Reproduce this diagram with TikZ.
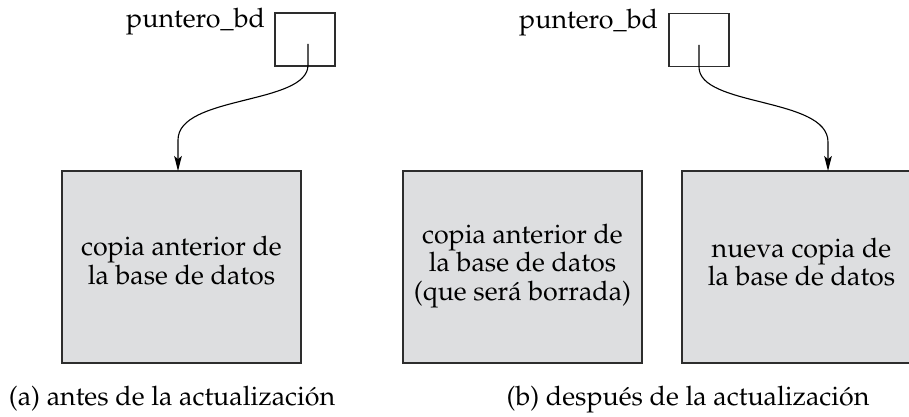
\documentclass[tikz,border=0pt]{standalone}
\usepackage[T1]{fontenc}
\usepackage{mathpazo}
\usetikzlibrary{arrows.meta}
\definecolor{boxfill}{RGB}{221,222,224}
\definecolor{edge}{RGB}{45,45,45}
\begin{document}
\begin{tikzpicture}[x=0.5pt,y=-0.5pt,
  txt/.style={font=\fontsize{13.4}{14.25}\selectfont, inner sep=0pt, outer sep=0pt},
  ptrbox/.style={draw=edge, line width=0.6pt, minimum width=30pt, minimum height=26.5pt, inner sep=0pt},
  dbbox/.style={draw=edge, fill=boxfill, line width=0.65pt, minimum width=119.5pt, minimum height=96pt, inner sep=0pt},
  conn/.style={draw=black, line width=0.55pt, -{Stealth[length=7.5pt,width=3.8pt,inset=1.6pt]}}]
\useasboundingbox (0,0) rectangle (909,417);
\clip (0,0) rectangle (909,417);
% (a)
\node[ptrbox] (pa) at (305,39.5) {};
\node[txt, anchor=base east] (la) at (265,28) {puntero\_bd};
\node[dbbox] (da) at (181.5,267) {};
\node[txt, anchor=base] (ta) at (181.5,255.5) {\begin{tabular}[t]{@{}c@{}}copia anterior de\\la base de datos\end{tabular}};
\node[txt, anchor=base] (ca) at (172,405) {(a) antes de la actualizaci\'on};
\coordinate (sa) at (308,44);
\coordinate (ea) at (178,171);
\draw[conn] (sa) -- (308,65) .. controls (308,105) and (178,95) .. (178,140) -- (ea);
% (b)
\node[ptrbox] (pb) at (699,40) {};
\node[txt, anchor=base east] (lb) at (658,29) {puntero\_bd};
\node[dbbox] (dold) at (522.5,267) {};
\node[txt, anchor=base] (told) at (522.5,243) {\begin{tabular}[t]{@{}c@{}}copia anterior de\\la base de datos\\(que ser\'a borrada)\end{tabular}};
\node[dbbox] (dnew) at (801.5,267) {};
\node[txt, anchor=base] (tnew) at (801.5,257) {\begin{tabular}[t]{@{}c@{}}nueva copia de\\la base de datos\end{tabular}};
\node[txt, anchor=base] (cb) at (688,405) {(b) despu\'es de la actualizaci\'on};
\coordinate (sb) at (699,45);
\coordinate (eb) at (828,171);
\draw[conn] (sb) -- (699,67) .. controls (699,107) and (828,97) .. (828,142) -- (eb);
\end{tikzpicture}
\end{document}
